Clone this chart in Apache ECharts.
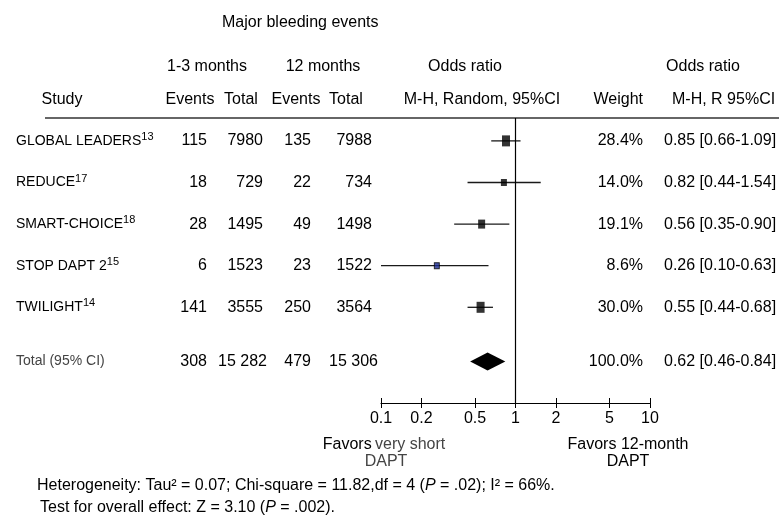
<!DOCTYPE html>
<html>
<head>
<meta charset="utf-8">
<script src="https://cdn.jsdelivr.net/npm/echarts@6/dist/echarts.min.js"></script>
<style>html,body{margin:0;padding:0;background:#fff;}#c{width:779px;height:525px;}</style>
</head>
<body>
<div id="c"></div>
<script>
// ---------- data ----------
const studies = ['GLOBAL LEADERS', 'REDUCE', 'SMART-CHOICE', 'STOP DAPT 2', 'TWILIGHT'];
const refs = ['13', '17', '18', '15', '14'];
const eventsShort = [115, 18, 28, 6, 141];
const totalShort = [7980, 729, 1495, 1523, 3555];
const events12 = [135, 22, 49, 23, 250];
const total12 = [7988, 734, 1498, 1522, 3564];
const weights = [28.4, 14.0, 19.1, 8.6, 30.0];
const oddsRatio = [0.85, 0.82, 0.56, 0.26, 0.55];
const ciLow = [0.66, 0.44, 0.35, 0.10, 0.44];
const ciHigh = [1.09, 1.54, 0.90, 0.63, 0.68];
const pooledCounts = [308, 15282, 479, 15306];
const pooledWeight = 100.0;
const pooledOR = [0.62, 0.46, 0.84]; // estimate, low, high
const tickValues = [0.1, 0.2, 0.5, 1, 2, 5, 10];
const heterogeneityText = ['Heterogeneity: Tau\u00b2 = 0.07; Chi-square = 11.82,df = 4 (', 'P', ' = .02); I\u00b2 = 66%.'];
const overallText = ['Test for overall effect: Z = 3.10 (', 'P', ' = .002).'];

// ---------- layout ----------
const FONT = '"Liberation Sans", Arial, Helvetica, sans-serif';
const totalRowPos = 5.3;
const fmtN = n => n >= 10000 ? String(n).replace(/(\d)(?=(\d{3})+$)/g, '$1 ') : String(n);
const fmtOR = (e, l, h) => e.toFixed(2) + ' [' + l.toFixed(2) + '-' + h.toFixed(2) + ']';

const chart = echarts.init(document.getElementById('c'), null, {renderer: 'canvas'});

const markerData = oddsRatio.map((v, i) => {
  const d = {value: [v, i]};
  if (i === 3) d.itemStyle = {color: '#1c2c94', borderColor: '#000', borderWidth: 1};
  return d;
});

const option = {
  animation: false,
  backgroundColor: '#fff',
  grid: {left: 381, right: 129, top: 118, bottom: 122, containLabel: false},
  xAxis: [{
    type: 'log', logBase: 10, min: 0.1, max: 10, position: 'bottom',
    axisLine: {show: true, onZero: false, lineStyle: {color: '#000', width: 1.2}},
    axisTick: {show: true, length: 5, inside: false, customValues: tickValues, lineStyle: {color: '#000', width: 1}},
    axisLabel: {show: true, customValues: tickValues, margin: 8, color: '#000', fontSize: 16, fontFamily: FONT,
      formatter: v => String(+(+v).toPrecision(2))},
    splitLine: {show: false}, minorTick: {show: false}
  }, {
    type: 'log', logBase: 10, min: 0.1, max: 10, position: 'bottom',
    axisLine: {show: false, onZero: false},
    axisTick: {show: true, length: 5, inside: true, customValues: tickValues, lineStyle: {color: '#000', width: 1}},
    axisLabel: {show: false},
    splitLine: {show: false}
  }],
  yAxis: {type: 'value', inverse: true, min: -0.55, max: 6.3, show: false, splitLine: {show: false}},
  series: [{
    type: 'custom',
    xAxisIndex: 0,
    renderItem: (params, api) => {
      const y = api.value(2);
      const p1 = api.coord([api.value(0), y]);
      const p2 = api.coord([api.value(1), y]);
      return {type: 'line', shape: {x1: p1[0], y1: p1[1], x2: p2[0], y2: p2[1]},
        style: {stroke: '#1a1a1a', lineWidth: 1.3}};
    },
    encode: {x: [0, 1], y: 2},
    data: ciLow.map((l, i) => [l, ciHigh[i], i]),
    clip: false,
    z: 2
  }, {
    type: 'scatter',
    xAxisIndex: 0,
    symbol: 'rect',
    symbolSize: (val, params) => {
      const w = weights[params.dataIndex];
      return [Math.round(2 + Math.sqrt(w) * 1.1), Math.round(Math.sqrt(w) * 2)];
    },
    itemStyle: {color: '#000'},
    data: markerData,
    z: 3,
    markLine: {
      silent: true, symbol: ['none', 'none'], label: {show: false},
      lineStyle: {color: '#000', width: 1.2, type: 'solid'},
      data: [{xAxis: 1}]
    }
  }, {
    type: 'custom',
    xAxisIndex: 0,
    renderItem: (params, api) => {
      const y = api.value(3);
      const pl = api.coord([api.value(1), y]);
      const pc = api.coord([api.value(0), y]);
      const pr = api.coord([api.value(2), y]);
      const h = 9;
      return {type: 'polygon', shape: {points: [pl, [pc[0], pc[1] - h], pr, [pc[0], pc[1] + h]]},
        style: {fill: '#000'}};
    },
    encode: {x: [0, 1, 2], y: 3},
    data: [[pooledOR[0], pooledOR[1], pooledOR[2], totalRowPos]],
    z: 3
  }]
};
chart.setOption(option);

// ---------- table text through the y axis ----------
const rowY = r => chart.convertToPixel({yAxisIndex: 0}, r);
const txt = (text, x, y, opts) => ({
  type: 'text', silent: true,
  style: Object.assign({text: text, x: x, y: y, fill: '#000', font: '16px ' + FONT,
    textAlign: 'left', textVerticalAlign: 'middle'}, opts || {})
});
const g = [];
// title and headers
g.push(txt('Major bleeding events', 222, 23));
g.push(txt('1-3 months', 207, 67, {textAlign: 'center'}));
g.push(txt('12 months', 323, 67, {textAlign: 'center'}));
g.push(txt('Odds ratio', 465, 67, {textAlign: 'center'}));
g.push(txt('Odds ratio', 703, 67, {textAlign: 'center'}));
g.push(txt('Study', 62, 100, {textAlign: 'center'}));
g.push(txt('Events', 190, 100, {textAlign: 'center'}));
g.push(txt('Total', 241, 100, {textAlign: 'center'}));
g.push(txt('Events', 296, 100, {textAlign: 'center'}));
g.push(txt('Total', 346, 100, {textAlign: 'center'}));
g.push(txt('M-H, Random, 95%CI', 482, 100, {textAlign: 'center'}));
g.push(txt('Weight', 643, 100, {textAlign: 'right'}));
g.push(txt('M-H, R 95%CI', 672, 100));
g.push({type: 'line', silent: true, shape: {x1: 45, y1: 118, x2: 779, y2: 118},
  style: {stroke: '#333', lineWidth: 1.5}});

studies.forEach((s, i) => {
  const y = rowY(i);
  g.push({type: 'text', silent: true, style: {
    text: '{n|' + s + '}{s|' + refs[i] + '}', x: 16, y: y, textVerticalAlign: 'middle', textAlign: 'left',
    rich: {
      n: {fontSize: 14, fontFamily: FONT, fill: '#000', color: '#000', lineHeight: 16},
      s: {fontSize: 11, fontFamily: FONT, fill: '#000', color: '#000', lineHeight: 12, padding: [0, 0, 8, 0]}
    }}});
  g.push(txt(fmtN(eventsShort[i]), 207, y, {textAlign: 'right'}));
  g.push(txt(fmtN(totalShort[i]), 263, y, {textAlign: 'right'}));
  g.push(txt(fmtN(events12[i]), 311, y, {textAlign: 'right'}));
  g.push(txt(fmtN(total12[i]), 372, y, {textAlign: 'right'}));
  g.push(txt(weights[i].toFixed(1) + '%', 643, y, {textAlign: 'right'}));
  g.push(txt(fmtOR(oddsRatio[i], ciLow[i], ciHigh[i]), 664, y));
});

const ty = rowY(totalRowPos);
g.push(txt('Total (95% CI)', 16, ty, {font: '14px ' + FONT, fill: '#444'}));
g.push(txt(fmtN(pooledCounts[0]), 207, ty, {textAlign: 'right'}));
g.push(txt(fmtN(pooledCounts[1]), 267, ty, {textAlign: 'right'}));
g.push(txt(fmtN(pooledCounts[2]), 311, ty, {textAlign: 'right'}));
g.push(txt(fmtN(pooledCounts[3]), 378, ty, {textAlign: 'right'}));
g.push(txt(pooledWeight.toFixed(1) + '%', 643, ty, {textAlign: 'right'}));
g.push(txt(fmtOR(pooledOR[0], pooledOR[1], pooledOR[2]), 664, ty));

// favours labels
g.push({type: 'text', silent: true, style: {
  text: '{b|Favors} {g|very short}', x: 384, y: 445, textAlign: 'center', textVerticalAlign: 'middle',
  rich: {b: {fontSize: 16, fontFamily: FONT, fill: '#000'}, g: {fontSize: 16, fontFamily: FONT, fill: '#444'}}}});
g.push(txt('DAPT', 386, 462, {textAlign: 'center', fill: '#444'}));
g.push(txt('Favors 12-month', 628, 445, {textAlign: 'center'}));
g.push(txt('DAPT', 628, 462, {textAlign: 'center'}));

// footnotes
const richFoot = parts => '{r|' + parts[0] + '}{i|' + parts[1] + '}{r|' + parts[2] + '}';
const footRich = {r: {fontSize: 16, fontFamily: FONT, fill: '#000'},
  i: {fontSize: 16, fontFamily: FONT, fontStyle: 'italic', fill: '#000'}};
g.push({type: 'text', silent: true, style: {text: richFoot(heterogeneityText), x: 37, y: 486,
  textVerticalAlign: 'middle', rich: footRich}});
g.push({type: 'text', silent: true, style: {text: richFoot(overallText), x: 40, y: 508,
  textVerticalAlign: 'middle', rich: footRich}});

chart.setOption({graphic: {elements: g}});
</script>
</body>
</html>
